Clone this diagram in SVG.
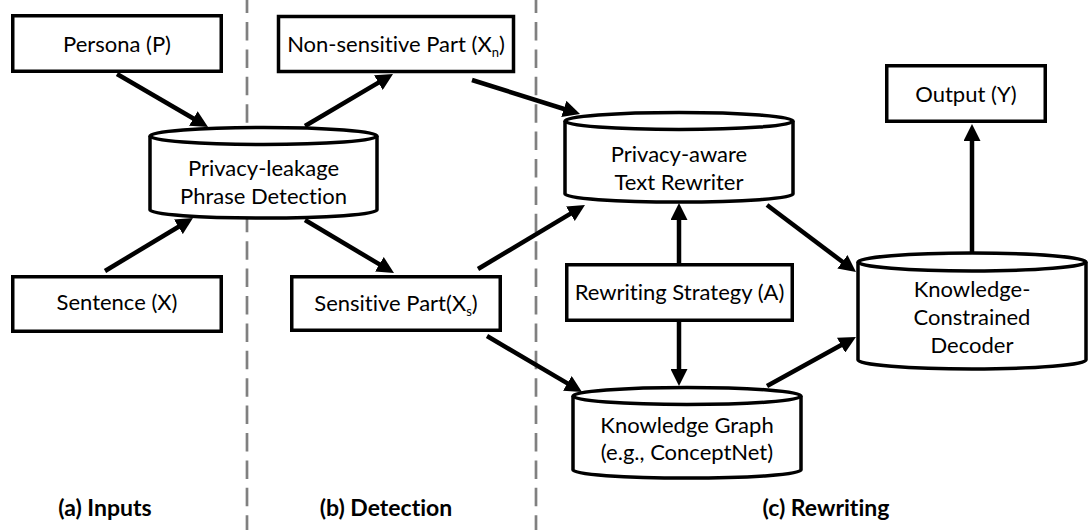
<svg xmlns="http://www.w3.org/2000/svg" width="1090" height="530" viewBox="0 0 1090 530">
  <style>
    .box { fill: #fff; stroke: #000; stroke-width: 3.5; }
    .cyl { fill: #fff; stroke: #000; stroke-width: 3.5; }
    .lbl { font-family: Lato, "Liberation Sans", sans-serif; font-size: 22px; fill: #000; text-anchor: middle; font-variant-ligatures: none; }
    .sec { font-family: Lato, "Liberation Sans", sans-serif; font-size: 23px; font-weight: bold; fill: #000; text-anchor: middle; font-variant-ligatures: none; }
    .sub { font-size: 13px; }
    .div { stroke: #808080; stroke-width: 2.7; stroke-dasharray: 18.5 8.9; }
    .arr { stroke: #000; stroke-width: 4.5; fill: none; marker-end: url(#head); }
  </style>
  <defs>
    <marker id="head" markerUnits="userSpaceOnUse" markerWidth="19" markerHeight="17" refX="7" refY="8.5" orient="auto">
      <path d="M0,0 L17,8.5 L0,17 Z" fill="#000"/>
    </marker>
  </defs>

  <rect width="1090" height="530" fill="#fff"/>

  <!-- stage dividers -->
  <g id="dividers">
    <line class="div" x1="247" y1="-5.4" x2="247" y2="530"/>
    <line class="div" x1="536" y1="-5.4" x2="536" y2="530"/>
  </g>

  <!-- connectors (line ends 10px short of the tip; the marker supplies the rest) -->
  <g id="connectors">
    <line class="arr" x1="117" y1="74" x2="199.4" y2="122"/>
    <line class="arr" x1="105" y1="271" x2="184.4" y2="223.2"/>
    <line class="arr" x1="305" y1="126" x2="384.4" y2="79.1"/>
    <line class="arr" x1="305" y1="220" x2="385.4" y2="267.9"/>
    <line class="arr" x1="472" y1="80" x2="570.5" y2="111"/>
    <line class="arr" x1="478" y1="269" x2="576.4" y2="210.1"/>
    <line class="arr" x1="487" y1="336" x2="573.4" y2="386.9"/>
    <line class="arr" x1="679" y1="263" x2="679" y2="213"/>
    <line class="arr" x1="679" y1="322" x2="679" y2="376"/>
    <line class="arr" x1="767" y1="205" x2="848" y2="266"/>
    <line class="arr" x1="767" y1="386" x2="847.2" y2="341.8"/>
    <line class="arr" x1="972" y1="253" x2="972" y2="134"/>
  </g>

  <g id="persona">
    <rect class="box" x="12.75" y="15.75" width="208.5" height="55.5"/>
    <text class="lbl" x="117" y="52">Persona (P)</text>
  </g>

  <g id="sentence">
    <rect class="box" x="12.75" y="276.75" width="208.5" height="54.5"/>
    <text class="lbl" x="117" y="310">Sentence (X)</text>
  </g>

  <g id="phrase-detection">
    <path class="cyl" d="M150,136 V210 A113.5,8 0 0 0 377,210 V136"/>
    <ellipse class="cyl" cx="263.5" cy="136" rx="113.5" ry="8.5"/>
    <text class="lbl" x="263.5" y="176">Privacy-leakage</text>
    <text class="lbl" x="263.5" y="204">Phrase Detection</text>
  </g>

  <g id="non-sensitive">
    <rect class="box" x="278.5" y="16.5" width="235" height="55"/>
    <text class="lbl" x="396" y="52">Non-sensitive Part (X<tspan class="sub" dy="5">n</tspan><tspan dy="-5">)</tspan></text>
  </g>

  <g id="sensitive">
    <rect class="box" x="291.75" y="276.75" width="208.5" height="53.5"/>
    <text class="lbl" x="396" y="311">Sensitive Part(X<tspan class="sub" dy="5">s</tspan><tspan dy="-5">)</tspan></text>
  </g>

  <g id="text-rewriter">
    <path class="cyl" d="M565,121 V194 A114,8 0 0 0 793,194 V121"/>
    <ellipse class="cyl" cx="679" cy="121" rx="114" ry="8.5"/>
    <text class="lbl" x="679" y="162">Privacy-aware</text>
    <text class="lbl" x="679" y="190">Text Rewriter</text>
  </g>

  <g id="strategy">
    <rect class="box" x="566.75" y="264.75" width="225.5" height="55.5"/>
    <text class="lbl" x="679.5" y="300">Rewriting Strategy (A)</text>
  </g>

  <g id="knowledge-graph">
    <path class="cyl" d="M573,396 V470 A114,8 0 0 0 801,470 V396"/>
    <ellipse class="cyl" cx="687" cy="396" rx="114" ry="8.5"/>
    <text class="lbl" x="687" y="433">Knowledge Graph</text>
    <text class="lbl" x="687" y="460">(e.g., ConceptNet)</text>
  </g>

  <g id="decoder">
    <path class="cyl" d="M858,262 V360 A114,9 0 0 0 1086,360 V262"/>
    <ellipse class="cyl" cx="972" cy="262" rx="114" ry="9"/>
    <text class="lbl" x="972" y="297">Knowledge-</text>
    <text class="lbl" x="972" y="325">Constrained</text>
    <text class="lbl" x="972" y="353">Decoder</text>
  </g>

  <g id="output">
    <rect class="box" x="886.75" y="65.75" width="158.5" height="55.5"/>
    <text class="lbl" x="966" y="102">Output (Y)</text>
  </g>

  <!-- stage captions -->
  <g id="captions">
    <text class="sec" x="105" y="516">(a) Inputs</text>
    <text class="sec" x="386" y="516">(b) Detection</text>
    <text class="sec" x="826" y="516">(c) Rewriting</text>
  </g>
</svg>
